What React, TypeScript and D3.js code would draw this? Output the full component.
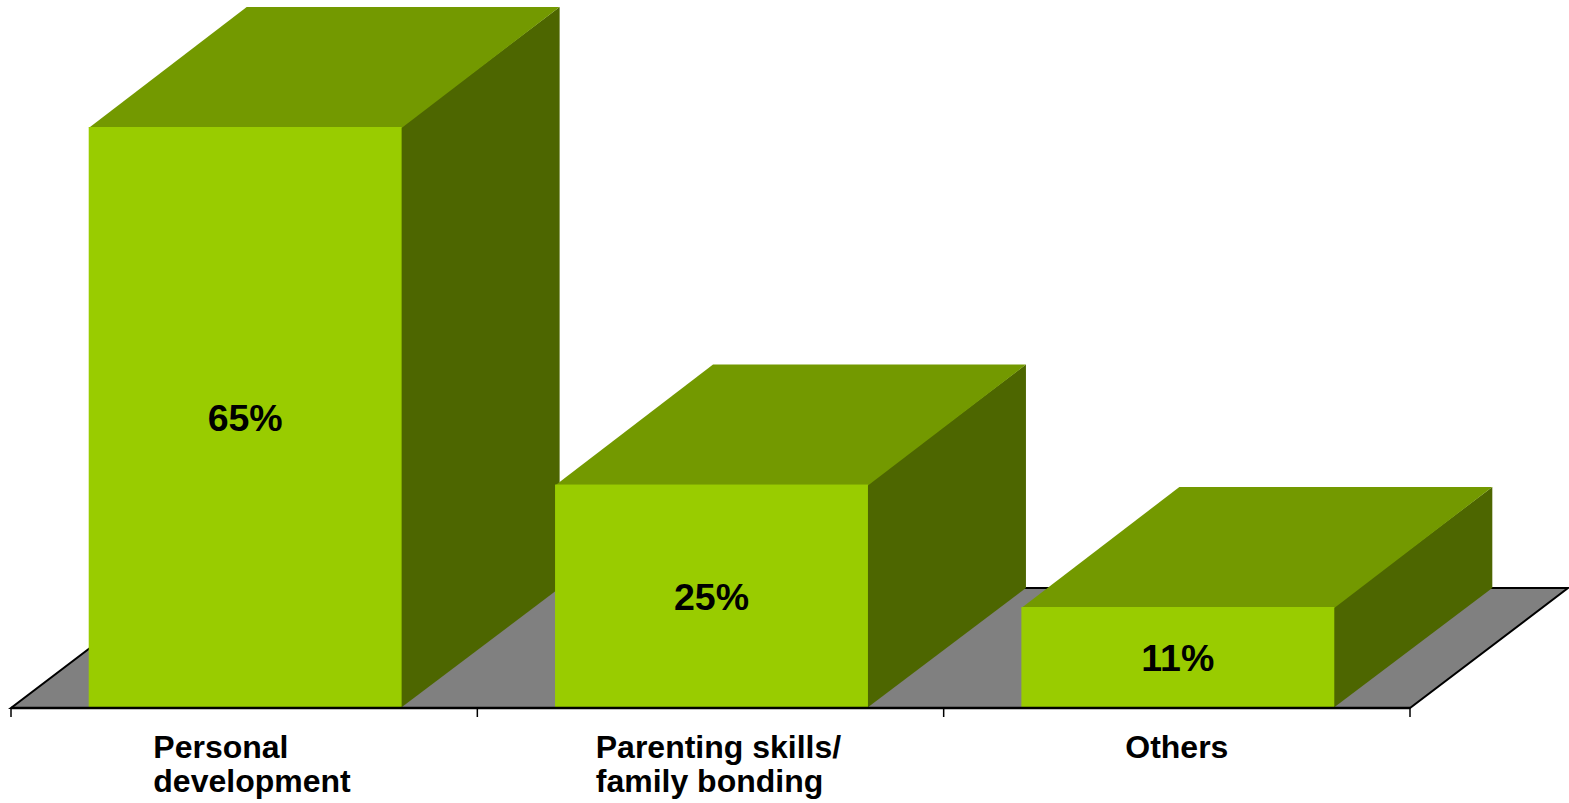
import React, { useRef, useEffect } from 'react'
import * as d3 from 'd3'

const categories = ['Personal development', 'Parenting skills/ family bonding', 'Others']
const labelLines = [['Personal', 'development'], ['Parenting skills/', 'family bonding'], ['Others']]
const values = [65, 25, 11.3]
const valueLabels = ['65%', '25%', '11%']

const W = 1569
const H = 803
const depthX = 158
const depthY = -120

function App() {
    const svgRef = useRef<SVGSVGElement>(null)

    useEffect(() => {
        const svg = d3.select(svgRef.current)
        svg.selectAll('*').remove()

        const x = d3.scaleBand<string>().domain(categories).range([11, 1410]).padding(0)
        const y = d3.scaleLinear().domain([0, 65]).range([708, 127])
        const barW = x.bandwidth() * 0.671
        const base = y(0)

        const poly = (pts: number[][]) => 'M' + pts.map(p => p.join(',')).join('L') + 'Z'

        // floor
        svg.append('path')
            .attr('d', poly([[11, base], [1410, base], [1410 + depthX, base + depthY], [11 + depthX, base + depthY]]))
            .attr('fill', '#808080')
            .attr('stroke', '#000')
            .attr('stroke-width', 2)
            .attr('stroke-linejoin', 'miter')

        const bars = svg.selectAll('.bar').data(categories).join('g').attr('class', 'bar')

        bars.each(function (c, i) {
            const g = d3.select(this)
            const x0 = (x(c) as number) + (x.bandwidth() - barW) / 2 + 1
            const x1 = x0 + barW
            const top = y(values[i])
            // side
            g.append('path')
                .attr('d', poly([[x1 - 1, top], [x1 + depthX, top + depthY], [x1 + depthX, base + depthY], [x1 - 1, base]]))
                .attr('fill', '#4d6600')
            // top
            g.append('path')
                .attr('d', poly([[x0, top + 1], [x0 + depthX, top + depthY], [x1 + depthX, top + depthY], [x1, top + 1]]))
                .attr('fill', '#739900')
            // front
            g.append('rect')
                .attr('x', x0).attr('y', top)
                .attr('width', barW).attr('height', base - top)
                .attr('fill', '#99cc00')
            g.append('text')
                .attr('x', (x0 + x1) / 2)
                .attr('y', (top + base) / 2 + 13.5)
                .attr('text-anchor', 'middle')
                .attr('font-family', '"Liberation Sans", Arial, sans-serif')
                .attr('font-weight', 'bold')
                .attr('font-size', 37.5)
                .attr('fill', '#000')
                .text(valueLabels[i])
        })

        // axis line + ticks
        svg.append('line')
            .attr('x1', 11).attr('x2', 1410).attr('y1', base).attr('y2', base)
            .attr('stroke', '#000').attr('stroke-width', 2.5)
        const tickXs = categories.map(c => x(c) as number).concat([x.range()[1]])
        svg.selectAll('.tick').data(tickXs).join('line').attr('class', 'tick')
            .attr('x1', d => d).attr('x2', d => d)
            .attr('y1', base).attr('y2', base + 9)
            .attr('stroke', '#000').attr('stroke-width', 1.5)

        // category labels
        categories.forEach((c, i) => {
            const t = svg.append('text')
                .attr('font-family', '"Liberation Sans", Arial, sans-serif')
                .attr('font-weight', 'bold')
                .attr('font-size', 32)
                .attr('fill', '#000')
            labelLines[i].forEach((line, j) => {
                t.append('tspan').attr('x', 0).attr('y', base + 49.5 + j * 34.5).text(line)
            })
            const w = (t.node() as SVGTextElement).getBBox().width
            const cx = (x(c) as number) + x.bandwidth() / 2
            t.attr('transform', `translate(${cx - w / 2 + (labelLines[i].length > 1 ? 8 : 0)},0)`)
        })
    }, [])

    return (
        <svg ref={svgRef} width={W} height={H}
            style={{ position: 'absolute', left: 0, top: 0, display: 'block', background: '#fff' }} />
    )
}

export default App
